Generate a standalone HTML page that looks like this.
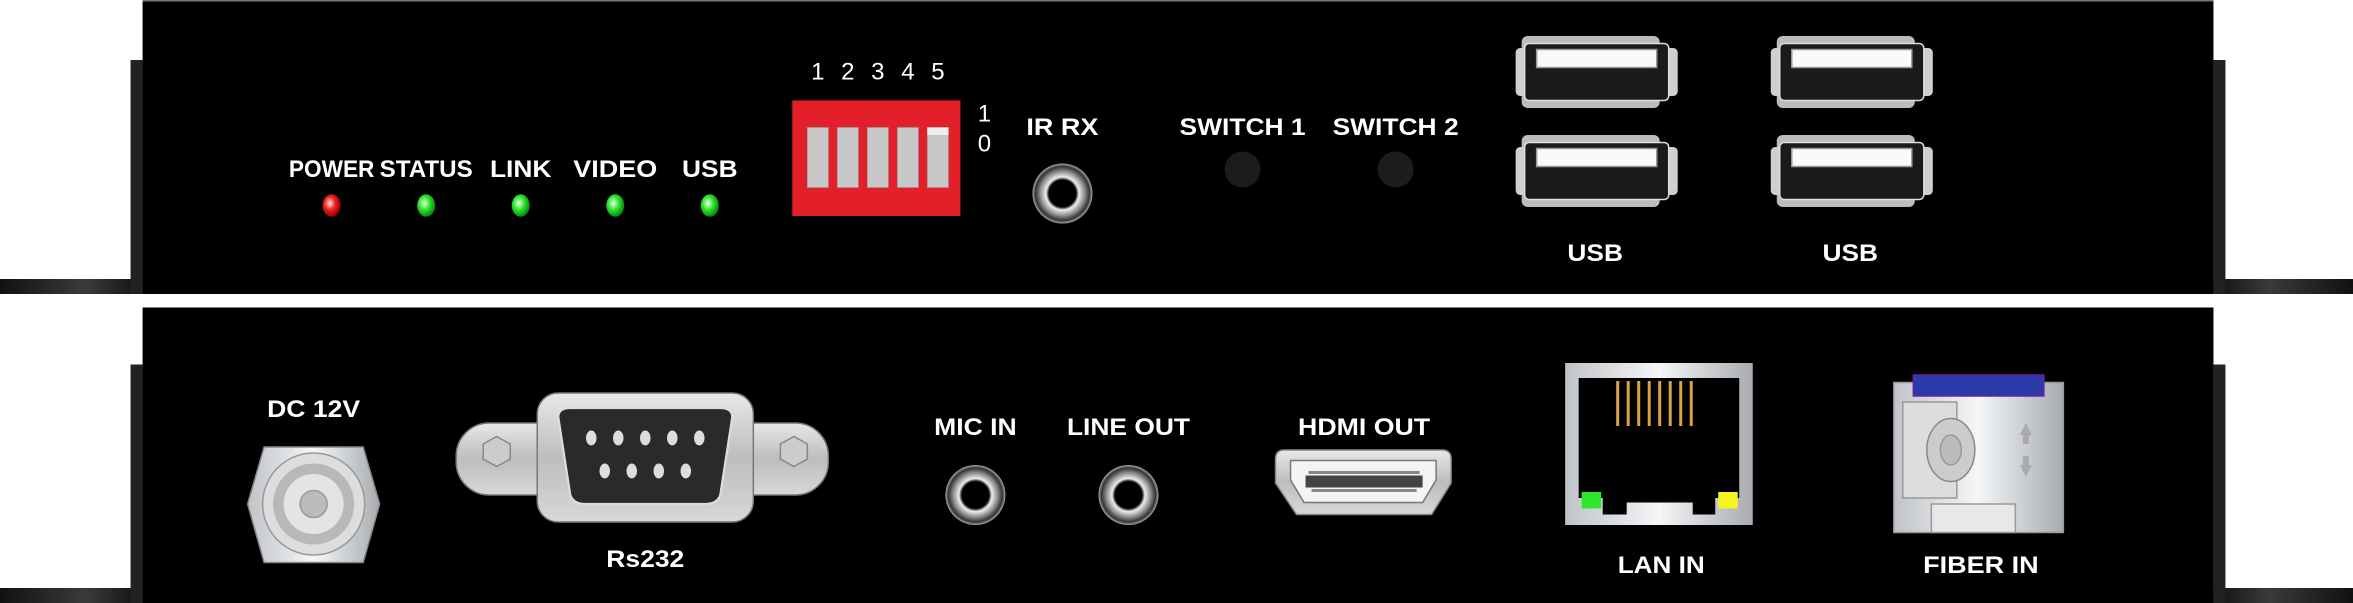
<!DOCTYPE html>
<html><head><meta charset="utf-8"><style>
html,body{margin:0;padding:0;background:#fff;}
svg{display:block;}
text{font-family:"Liberation Sans Narrow","Liberation Sans",sans-serif;font-weight:bold;fill:#fff;}
</style></head><body>
<svg width="2353" height="603" viewBox="0 0 1568 402" preserveAspectRatio="none" xmlns="http://www.w3.org/2000/svg">
<defs>
<linearGradient id="brL" x1="0" x2="1"><stop offset="0" stop-color="#111"/><stop offset="0.6" stop-color="#3a3a3a"/><stop offset="1" stop-color="#111"/></linearGradient>
<linearGradient id="brR" x1="1" x2="0"><stop offset="0" stop-color="#111"/><stop offset="0.6" stop-color="#3a3a3a"/><stop offset="1" stop-color="#111"/></linearGradient>
<radialGradient id="gled" cx="0.4" cy="0.4" r="0.6"><stop offset="0" stop-color="#eaffea"/><stop offset="0.5" stop-color="#2ee62e"/><stop offset="1" stop-color="#0a8a0a"/></radialGradient>
<radialGradient id="rled" cx="0.4" cy="0.4" r="0.6"><stop offset="0" stop-color="#ffe0e0"/><stop offset="0.5" stop-color="#f02020"/><stop offset="1" stop-color="#900"/></radialGradient>
<linearGradient id="metal" x1="0" x2="0" y1="0" y2="1"><stop offset="0" stop-color="#e8e8e8"/><stop offset="0.5" stop-color="#bdbdbd"/><stop offset="1" stop-color="#d8d8d8"/></linearGradient>
<linearGradient id="metalH" x1="0" x2="1"><stop offset="0" stop-color="#c0c4c8"/><stop offset="0.5" stop-color="#f4f6f8"/><stop offset="1" stop-color="#a8acb0"/></linearGradient>
<radialGradient id="jack" cx="0.5" cy="0.5" r="0.5"><stop offset="0.45" stop-color="#000"/><stop offset="0.55" stop-color="#eee"/><stop offset="0.75" stop-color="#888"/><stop offset="0.9" stop-color="#333"/><stop offset="1" stop-color="#aaa"/></radialGradient>
<g id="usb">
 <rect x="4" y="0" width="92" height="48" rx="4" fill="#bcbcbc"/>
 <rect x="0" y="8" width="108" height="32" rx="3" fill="#cfcfcf"/>
 <rect x="6" y="5" width="96" height="38" rx="3" fill="#1a1a1a" stroke="#ddd" stroke-width="1"/>
 <rect x="14" y="9" width="80" height="12" fill="#fafafa" stroke="#999" stroke-width="1"/>
</g>
<g id="jk"><circle r="20" fill="url(#jack)"/><circle r="7" fill="#000"/></g>
</defs>

<rect x="0" y="186" width="95" height="10" fill="url(#brL)"/>
<rect x="87" y="40" width="8" height="156" fill="#222"/>
<rect x="1475" y="186" width="93" height="10" fill="url(#brR)"/>
<rect x="1475" y="40" width="8" height="156" fill="#222"/>
<rect x="0" y="392" width="95" height="10" fill="url(#brL)"/>
<rect x="87" y="243" width="8" height="159" fill="#222"/>
<rect x="1475" y="392" width="93" height="10" fill="url(#brR)"/>
<rect x="1475" y="243" width="8" height="159" fill="#222"/>

<rect x="95" y="0" width="1380" height="196" fill="#000"/>
<rect x="95" y="0" width="1380" height="1" fill="#777"/>
<rect x="95" y="205" width="1380" height="197" fill="#000"/>

<g font-size="16" text-anchor="middle">
<text x="221" y="118" textLength="57" lengthAdjust="spacingAndGlyphs">POWER</text>
<text x="284" y="118" textLength="62" lengthAdjust="spacingAndGlyphs">STATUS</text>
<text x="347" y="118" textLength="41" lengthAdjust="spacingAndGlyphs">LINK</text>
<text x="410" y="118" textLength="56" lengthAdjust="spacingAndGlyphs">VIDEO</text>
<text x="473" y="118" textLength="37" lengthAdjust="spacingAndGlyphs">USB</text>
</g>
<ellipse cx="221" cy="137" rx="6" ry="7.5" fill="url(#rled)"/>
<ellipse cx="284" cy="137" rx="6" ry="7.5" fill="url(#gled)"/>
<ellipse cx="347" cy="137" rx="6" ry="7.5" fill="url(#gled)"/>
<ellipse cx="410" cy="137" rx="6" ry="7.5" fill="url(#gled)"/>
<ellipse cx="473" cy="137" rx="6" ry="7.5" fill="url(#gled)"/>

<g font-size="16" text-anchor="middle">
<text x="545" y="53" style="font-weight:normal">1</text>
<text x="565" y="53" style="font-weight:normal">2</text>
<text x="585" y="53" style="font-weight:normal">3</text>
<text x="605" y="53" style="font-weight:normal">4</text>
<text x="625" y="53" style="font-weight:normal">5</text>
<text x="656" y="81" style="font-weight:normal">1</text>
<text x="656" y="101" style="font-weight:normal">0</text>
</g>
<rect x="528" y="67" width="112" height="77" fill="#e3202a"/>
<g fill="#c8c8c8" stroke="#999" stroke-width="0.5">
<rect x="538" y="85" width="14" height="40"/>
<rect x="558" y="85" width="14" height="40"/>
<rect x="578" y="85" width="14" height="40"/>
<rect x="598" y="85" width="14" height="40"/>
<rect x="618" y="85" width="14" height="40"/>
</g>
<rect x="618" y="85" width="14" height="5" fill="#eee"/>

<text x="708" y="90" font-size="16" text-anchor="middle" textLength="48" lengthAdjust="spacingAndGlyphs">IR RX</text>
<use href="#jk" x="708" y="129"/>

<text x="828" y="90" font-size="16" text-anchor="middle" textLength="84" lengthAdjust="spacingAndGlyphs">SWITCH 1</text>
<text x="930" y="90" font-size="16" text-anchor="middle" textLength="84" lengthAdjust="spacingAndGlyphs">SWITCH 2</text>
<ellipse cx="828" cy="113" rx="12" ry="12" fill="#1c1c1c"/>
<ellipse cx="930" cy="113" rx="12" ry="12" fill="#1c1c1c"/>

<use href="#usb" x="1010" y="24"/>
<use href="#usb" x="1010" y="90"/>
<use href="#usb" x="1180" y="24"/>
<use href="#usb" x="1180" y="90"/>
<text x="1063" y="174" font-size="16" text-anchor="middle" textLength="37" lengthAdjust="spacingAndGlyphs">USB</text>
<text x="1233" y="174" font-size="16" text-anchor="middle" textLength="37" lengthAdjust="spacingAndGlyphs">USB</text>

<text x="209" y="278" font-size="16" text-anchor="middle" textLength="62" lengthAdjust="spacingAndGlyphs">DC 12V</text>
<polygon points="176,298 242,298 253,336 242,375 176,375 165,336" fill="url(#metalH)" stroke="#888" stroke-width="1"/>
<circle cx="209" cy="336" r="34" fill="#ddd" stroke="#999"/>
<circle cx="209" cy="336" r="27" fill="#b8b8b8"/>
<circle cx="209" cy="336" r="20" fill="#e4e4e4"/>
<circle cx="209" cy="336" r="9" fill="#bbb" stroke="#999"/>

<rect x="304" y="282" width="248" height="48" rx="22" fill="url(#metal)" stroke="#777"/>
<rect x="358" y="262" width="144" height="86" rx="14" fill="url(#metal)" stroke="#777"/>
<path d="M372 278 Q372 272 380 272 L480 272 Q488 272 488 278 L480 330 Q478 336 470 336 L390 336 Q382 336 380 330 Z" fill="#2a2a2a" stroke="#ddd" stroke-width="1.5"/>
<polygon points="322,296 331,291 340,296 340,306 331,311 322,306" fill="#ccc" stroke="#888"/>
<polygon points="520,296 529,291 538,296 538,306 529,311 520,306" fill="#ccc" stroke="#888"/>
<g fill="#ddd">
<ellipse cx="394" cy="292" rx="3.5" ry="5"/><ellipse cx="412" cy="292" rx="3.5" ry="5"/><ellipse cx="430" cy="292" rx="3.5" ry="5"/><ellipse cx="448" cy="292" rx="3.5" ry="5"/><ellipse cx="466" cy="292" rx="3.5" ry="5"/>
<ellipse cx="403" cy="314" rx="3.5" ry="5"/><ellipse cx="421" cy="314" rx="3.5" ry="5"/><ellipse cx="439" cy="314" rx="3.5" ry="5"/><ellipse cx="457" cy="314" rx="3.5" ry="5"/>
</g>
<text x="430" y="378" font-size="16" text-anchor="middle" textLength="52" lengthAdjust="spacingAndGlyphs">Rs232</text>

<text x="650" y="290" font-size="16" text-anchor="middle" textLength="55" lengthAdjust="spacingAndGlyphs">MIC IN</text>
<text x="752" y="290" font-size="16" text-anchor="middle" textLength="82" lengthAdjust="spacingAndGlyphs">LINE OUT</text>
<use href="#jk" x="650" y="330"/>
<use href="#jk" x="752" y="330"/>

<text x="909" y="290" font-size="16" text-anchor="middle" textLength="88" lengthAdjust="spacingAndGlyphs">HDMI OUT</text>
<path d="M856 300 L961 300 Q967 300 967 306 L967 322 L954 343 L864 343 L850 322 L850 306 Q850 300 856 300 Z" fill="url(#metal)" stroke="#888"/>
<path d="M860 307 L957 307 L957 320 L948 335 L869 335 L860 320 Z" fill="#f4f4f4" stroke="#777"/>
<rect x="870" y="317" width="78" height="8" fill="#444"/>
<rect x="872" y="314" width="74" height="2" fill="#888"/>
<rect x="874" y="326" width="70" height="2" fill="#888"/>

<rect x="1043" y="242" width="125" height="108" fill="url(#metalH)"/>
<path d="M1052 252 L1159 252 L1159 332 L1143 332 L1143 343 L1128 343 L1128 335 L1084 335 L1084 343 L1068 343 L1068 332 L1052 332 Z" fill="#000"/>
<g stroke="#d9a441" stroke-width="2">
<line x1="1078" y1="254" x2="1078" y2="284"/><line x1="1085" y1="254" x2="1085" y2="284"/><line x1="1092" y1="254" x2="1092" y2="284"/><line x1="1099" y1="254" x2="1099" y2="284"/><line x1="1106" y1="254" x2="1106" y2="284"/><line x1="1113" y1="254" x2="1113" y2="284"/><line x1="1120" y1="254" x2="1120" y2="284"/><line x1="1127" y1="254" x2="1127" y2="284"/>
</g>
<rect x="1054" y="328" width="13" height="11" fill="#2ee62e"/>
<rect x="1145" y="328" width="13" height="11" fill="#f5f520"/>
<text x="1107" y="382" font-size="16" text-anchor="middle" textLength="58" lengthAdjust="spacingAndGlyphs">LAN IN</text>

<rect x="1262" y="255" width="113" height="100" fill="url(#metalH)" stroke="#999"/>
<rect x="1275" y="250" width="87" height="14" fill="#2a3aa8" stroke="#6a20a0"/>
<rect x="1268" y="268" width="36" height="64" fill="#ddd" stroke="#999"/>
<ellipse cx="1300" cy="300" rx="16" ry="21" fill="#ccc" stroke="#888"/>
<ellipse cx="1300" cy="300" rx="7" ry="10" fill="#bbb" stroke="#999"/>
<path d="M1346 290 l4 -8 l4 8 z M1348 290 h4 v6 h-4 z M1346 310 l4 8 l4 -8 z M1348 304 h4 v6 h-4z" fill="#aaa"/>
<rect x="1287" y="336" width="56" height="19" fill="#e8e8e8" stroke="#999"/>
<text x="1320" y="382" font-size="16" text-anchor="middle" textLength="77" lengthAdjust="spacingAndGlyphs">FIBER IN</text>
</svg>
</body></html>
